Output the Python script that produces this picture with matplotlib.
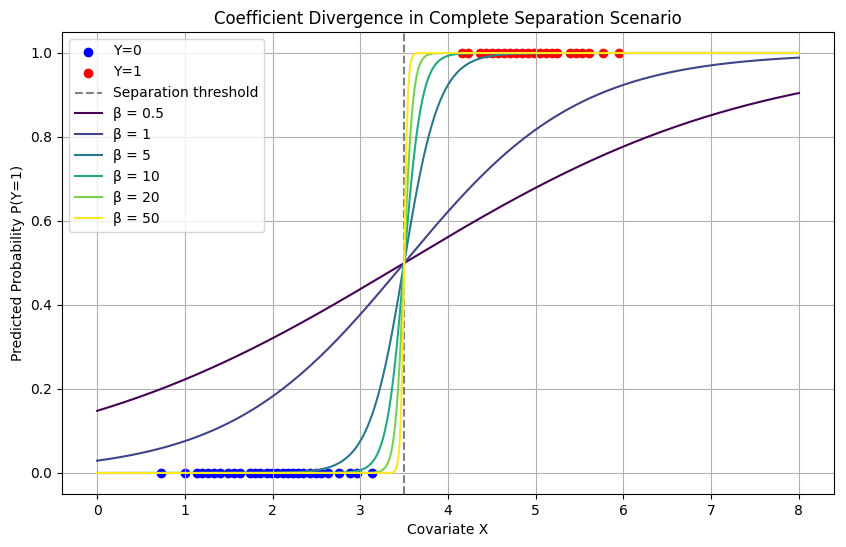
import numpy as np
import matplotlib
matplotlib.use("Agg")
import matplotlib.pyplot as plt

x_y0 = [0.73, 1.00, 1.14, 1.20, 1.26, 1.33, 1.40, 1.49, 1.56, 1.63, 1.74, 1.80,
        1.86, 1.94, 1.99, 2.05, 2.12, 2.18, 2.23, 2.29, 2.35, 2.43, 2.50, 2.55,
        2.63, 2.76, 2.88, 2.96, 3.13]
x_y1 = [4.16, 4.23, 4.36, 4.43, 4.50, 4.57, 4.64, 4.71, 4.78, 4.84, 4.91, 4.98,
        5.05, 5.12, 5.19, 5.24, 5.39, 5.46, 5.53, 5.61, 5.77, 5.95]

threshold = 3.5
betas = [0.5, 1, 5, 10, 20, 50]

fig = plt.figure(figsize=(8.46, 5.47), dpi=100)
ax = fig.add_axes([0.0733, 0.0969, 0.9125, 0.8446])

ax.scatter(x_y0, np.zeros(len(x_y0)), color='blue', label='Y=0')
ax.scatter(x_y1, np.ones(len(x_y1)), color='red', label='Y=1')
ax.axvline(threshold, color='gray', linestyle='--', label='Separation threshold')

xs = np.linspace(0, 8, 500)
colors = plt.cm.viridis(np.linspace(0, 1, len(betas)))
for beta, c in zip(betas, colors):
    ax.plot(xs, 1 / (1 + np.exp(-beta * (xs - threshold))), color=c,
            label=f'β = {beta}')

ax.set_title('Coefficient Divergence in Complete Separation Scenario')
ax.set_xlabel('Covariate X')
ax.set_ylabel('Predicted Probability P(Y=1)')
ax.legend(loc='upper left')
ax.grid(True)

fig.savefig('out.png', dpi=100)
